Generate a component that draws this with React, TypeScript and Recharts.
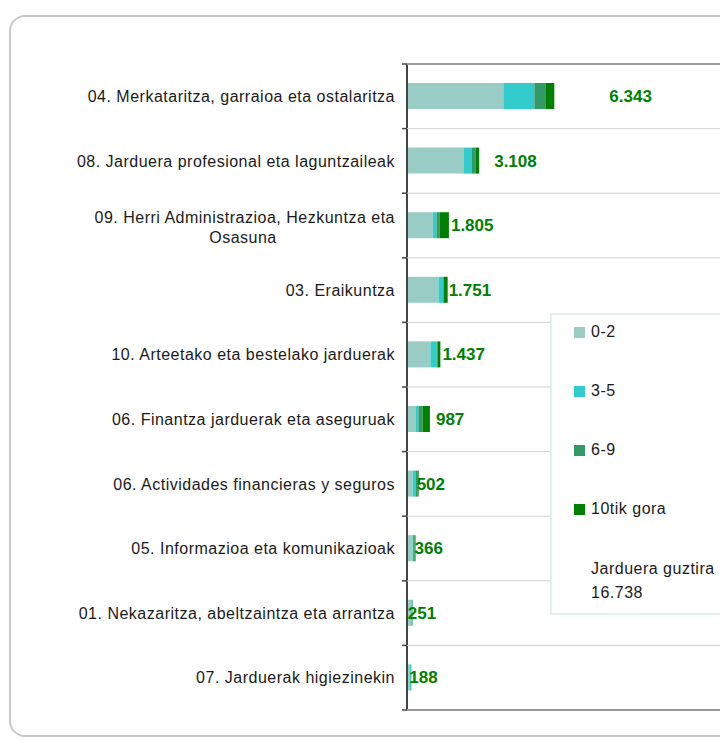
import React from 'react';
import { BarChart, Bar, XAxis, YAxis, LabelList } from 'recharts';

// sectors, top to bottom
const categories = [
  '04. Merkataritza, garraioa eta ostalaritza',
  '08. Jarduera profesional eta laguntzaileak',
  '09. Herri Administrazioa, Hezkuntza eta|Osasuna',
  '03. Eraikuntza',
  '10. Arteetako eta bestelako jarduerak',
  '06. Finantza jarduerak eta aseguruak',
  '06. Actividades financieras y seguros',
  '05. Informazioa eta komunikazioak',
  '01. Nekazaritza, abeltzaintza eta arrantza',
  '07. Jarduerak higiezinekin',
];

// establishments by number of employees
const size0to2 = [4150, 2430, 1110, 1355, 1010, 365, 250, 237, 180, 108];
const size3to5 = [1333, 344, 159, 202, 272, 130, 116, 30, 56, 70];
const size6to9 = [473, 172, 129, 35, 43, 172, 86, 64, 10, 6];
const size10plus = [387, 162, 407, 159, 112, 320, 50, 35, 5, 4];
const totals = [6343, 3108, 1805, 1751, 1437, 987, 502, 366, 251, 188];
const grandTotal = 16738;

const seriesNames = ['0-2', '3-5', '6-9', '10tik gora'];
const COLORS = ['#99CCC4', '#33CCCC', '#339966', '#008000'];

// label nudges (px) from the end of each bar, as in the original
const labelNudge = [55, 15, 2, 1, 2, 6, -2, -1, -5, -2];

const fmt = (n: number) => n.toLocaleString('de-DE');

const data = categories.map((c, i) => ({
  name: c,
  s0: size0to2[i],
  s1: size3to5[i],
  s2: size6to9[i],
  s3: size10plus[i],
}));

const FONT = '"Liberation Sans", Arial, sans-serif';

const CHART_W = 759;
const CHART_H = 732;
const MARGIN = { top: 56, right: 0, bottom: 30, left: 0 };
const AXIS_W = 399;
const BAND = (CHART_H - MARGIN.top - MARGIN.bottom) / categories.length;

const CategoryTick = (props: any) => {
  const { x, y, payload, index } = props;
  const lines = String(payload.value).split('|');
  const txt = { fontFamily: FONT, fontSize: 16, letterSpacing: 0.5, fill: '#1a1a1a' } as const;
  const top = y - BAND / 2;
  const bottom = y + BAND / 2;
  const last = index === categories.length - 1;
  return (
    <g>
      {/* category separators */}
      <line x1={AXIS_W} x2={CHART_W} y1={top} y2={top} stroke={index === 0 ? '#9a9a9a' : '#d0d0d0'} strokeWidth={index === 0 ? 2 : 1} />
      <line x1={AXIS_W - 5} x2={AXIS_W} y1={top} y2={top} stroke="#444" strokeWidth={1.5} />
      {last && (
        <>
          <line x1={AXIS_W} x2={CHART_W} y1={bottom} y2={bottom} stroke="#9a9a9a" strokeWidth={2} />
          <line x1={AXIS_W - 5} x2={AXIS_W} y1={bottom} y2={bottom} stroke="#444" strokeWidth={1.5} />
        </>
      )}
      {lines.length === 1 ? (
        <text x={x} y={y} dy="0.35em" textAnchor="end" {...txt}>
          {lines[0]}
        </text>
      ) : (
        <>
          <text x={x} y={y - 8} dy="0.35em" textAnchor="end" {...txt}>
            {lines[0]}
          </text>
          <text x={x - 152} y={y + 12} dy="0.35em" textAnchor="middle" {...txt}>
            {lines[1]}
          </text>
        </>
      )}
    </g>
  );
};

const TotalLabel = (props: any) => {
  const { x, y, width, height, index } = props;
  const endX = Number(x) + Number(width);
  return (
    <text
      x={endX + labelNudge[index]}
      y={Number(y) + Number(height) / 2}
      dy="0.35em"
      fontFamily={FONT}
      fontSize={17}
      fontWeight="bold"
      fill="#008000"
    >
      {fmt(totals[index])}
    </text>
  );
};

export default function App() {
  return (
    <div style={{ position: 'relative', width: 720, height: 732, overflow: 'hidden', fontFamily: FONT }}>
      <div
        style={{
          position: 'absolute',
          left: 1,
          top: 7,
          width: 740,
          height: 722,
          border: '2px solid #c8c8c8',
          borderRadius: 16,
          boxSizing: 'border-box',
        }}
      />
      <div style={{ position: 'absolute', left: 0, top: 0 }}>
        <BarChart
          width={CHART_W}
          height={CHART_H}
          layout="vertical"
          data={data}
          margin={MARGIN}
          barCategoryGap={0}
        >
          <XAxis type="number" domain={[0, 15500]} hide />
          <YAxis
            type="category"
            dataKey="name"
            width={AXIS_W}
            axisLine={{ stroke: '#444', strokeWidth: 2 }}
            tickLine={false}
            tickSize={0}
            tickMargin={12}
            interval={0}
            tick={<CategoryTick />}
          />
          <Bar dataKey="s0" stackId="a" fill={COLORS[0]} barSize={26} isAnimationActive={false} />
          <Bar dataKey="s1" stackId="a" fill={COLORS[1]} barSize={26} isAnimationActive={false} />
          <Bar dataKey="s2" stackId="a" fill={COLORS[2]} barSize={26} isAnimationActive={false} />
          <Bar dataKey="s3" stackId="a" fill={COLORS[3]} barSize={26} isAnimationActive={false}>
            <LabelList content={<TotalLabel />} />
          </Bar>
        </BarChart>
      </div>
      <div
        style={{
          position: 'absolute',
          left: 542,
          top: 305,
          width: 200,
          height: 302,
          background: '#fff',
          border: '2px solid #e6efec',
          boxSizing: 'border-box',
          fontSize: 16,
          letterSpacing: 0.5,
          color: '#1a1a1a',
        }}
      >
        {seriesNames.map((n, i) => (
          <div
            key={n}
            style={{ position: 'absolute', left: 22, top: 7 + i * 59, display: 'flex', alignItems: 'center', height: 20 }}
          >
            <span style={{ display: 'inline-block', width: 11, height: 11, background: COLORS[i], marginRight: 6 }} />
            <span>{n}</span>
          </div>
        ))}
        <div style={{ position: 'absolute', left: 39, top: 242, lineHeight: '24px' }}>
          Jarduera guztira
          <br />
          {fmt(grandTotal)}
        </div>
      </div>
    </div>
  );
}
